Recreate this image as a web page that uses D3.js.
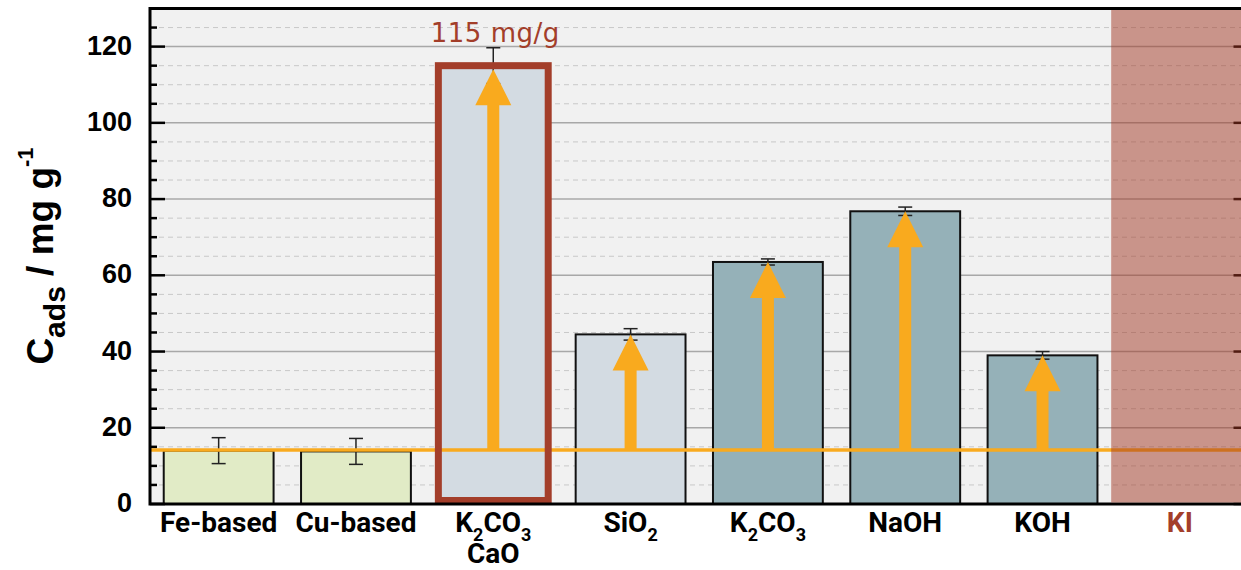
<!DOCTYPE html>
<html>
<head>
<meta charset="utf-8">
<script src="https://cdn.jsdelivr.net/npm/d3@7"></script>
<style>
  body { margin: 0; background: #fff; }
  svg { display: block; overflow: hidden; }
</style>
</head>
<body>
<div id="my_dataviz"></div>
<script>
// data
var categories = ["Fe-based", "Cu-based", "K2CO3\nCaO", "SiO2", "K2CO3", "NaOH", "KOH", "KI"];
var values = [14.0, 13.8, 115, 44.5, 63.5, 76.8, 39.0, null];
var errors = [3.4, 3.4, 4.7, 1.5, 0.8, 1.1, 1.0, null];
var groups = ["metal", "metal", "mixed", "oxide", "base", "base", "base", "none"];
var baseline = 14.2;
var majorTicks = [0, 20, 40, 60, 80, 100, 120];
var minorTicks = d3.range(5, 130, 5).filter(function(d) { return d % 20 != 0; });
var highlight = "K2CO3\nCaO";
var excluded = "KI";

var width = 1241, height = 570;
var pLeft = 150, pRight = 1248.5, pTop = 8.5, pBottom = 504;

var svg = d3.select("#my_dataviz")
  .append("svg")
    .attr("width", width)
    .attr("height", height);

var x = d3.scaleBand()
  .domain(categories)
  .range([pLeft, pRight])
  .paddingInner(0.2)
  .paddingOuter(0.1);

var y = d3.scaleLinear()
  .domain([0, 130])
  .range([pBottom, pTop]);

var color = d3.scaleOrdinal()
  .domain(["metal", "mixed", "oxide", "base", "none"])
  .range(["#e1ebc6", "#d3dbe2", "#d3dbe2", "#95b1b8", "none"]);

var red = "#a33e2a", orange = "#f9aa1e";

// plot background
svg.append("rect")
  .attr("x", pLeft).attr("y", pTop)
  .attr("width", pRight - pLeft).attr("height", pBottom - pTop)
  .style("fill", "#f1f1f1");

// grid lines
svg.append("g").selectAll("line")
  .data(minorTicks).enter().append("line")
    .attr("x1", pLeft).attr("x2", pRight)
    .attr("y1", function(d) { return y(d); })
    .attr("y2", function(d) { return y(d); })
    .style("stroke", "#c8c8c8")
    .style("stroke-width", 1)
    .style("stroke-dasharray", "5,4");

svg.append("g").selectAll("line")
  .data(majorTicks.slice(1)).enter().append("line")
    .attr("x1", pLeft).attr("x2", pRight)
    .attr("y1", function(d) { return y(d); })
    .attr("y2", function(d) { return y(d); })
    .style("stroke", "#a8a8a8")
    .style("stroke-width", 1.5);

var rows = categories.map(function(c, i) {
  return { name: c, value: values[i], err: errors[i], group: groups[i] };
});
var barRows = rows.filter(function(d) { return d.value != null; });

// bars
svg.append("g").selectAll("rect")
  .data(barRows).enter().append("rect")
    .attr("x", function(d) { return x(d.name); })
    .attr("y", function(d) { return y(d.value); })
    .attr("width", x.bandwidth())
    .attr("height", function(d) { return y(0) - y(d.value); })
    .style("fill", function(d) { return color(d.group); })
    .style("stroke", "#111")
    .style("stroke-width", 2);

// error bars
var eb = svg.append("g").selectAll("g")
  .data(barRows).enter().append("g")
    .style("stroke", "#222")
    .style("stroke-width", 1.5);
eb.append("line")
  .attr("x1", function(d) { return x(d.name) + x.bandwidth() / 2; })
  .attr("x2", function(d) { return x(d.name) + x.bandwidth() / 2; })
  .attr("y1", function(d) { return y(d.value + d.err); })
  .attr("y2", function(d) { return y(d.value - d.err); });
eb.selectAll(".cap")
  .data(function(d) { return [d.value + d.err, d.value - d.err].map(function(v) { return { name: d.name, v: v }; }); })
  .enter().append("line")
    .attr("class", "cap")
    .attr("x1", function(d) { return x(d.name) + x.bandwidth() / 2 - 7; })
    .attr("x2", function(d) { return x(d.name) + x.bandwidth() / 2 + 7; })
    .attr("y1", function(d) { return y(d.v); })
    .attr("y2", function(d) { return y(d.v); });

// reference line of the untreated sorbents
svg.append("line")
  .attr("x1", pLeft).attr("x2", pRight)
  .attr("y1", y(baseline)).attr("y2", y(baseline))
  .style("stroke", orange)
  .style("stroke-width", 3.5);

// arrows from the reference line up to each bar
var arrowRows = barRows.filter(function(d) { return d.value > baseline + 5; });
svg.append("g").selectAll("path")
  .data(arrowRows).enter().append("path")
    .attr("d", function(d) {
      var cx = x(d.name) + x.bandwidth() / 2,
          tip = y(d.value) + (d.name == highlight ? 3.5 : 0),
          head = tip + 36,
          base = y(baseline);
      var p = d3.path();
      p.moveTo(cx, tip);
      p.lineTo(cx + 18, head);
      p.lineTo(cx + 6, head);
      p.lineTo(cx + 6, base);
      p.lineTo(cx - 6, base);
      p.lineTo(cx - 6, head);
      p.lineTo(cx - 18, head);
      p.closePath();
      return p.toString();
    })
    .style("fill", orange);

// highlight frame
var hl = rows.filter(function(d) { return d.name == highlight; })[0];
svg.append("rect")
  .attr("x", x(hl.name))
  .attr("y", y(hl.value))
  .attr("width", x.bandwidth())
  .attr("height", y(0) - y(hl.value) - 3.5)
  .style("fill", "none")
  .style("stroke", red)
  .style("stroke-width", 7);

svg.append("text")
  .attr("x", x(hl.name) + x.bandwidth() / 2 + 2)
  .attr("y", 42)
  .attr("text-anchor", "middle")
  .style("font-family", "DejaVu Sans")
  .style("font-size", "26px")
  .style("letter-spacing", "0.5px")
  .style("fill", red)
  .text(hl.value + " mg/g");

// axis ticks (inward, both sides)
var ticks = svg.append("g").style("stroke", "#000").style("stroke-width", 2.5);
majorTicks.forEach(function(t) {
  ticks.append("line").attr("x1", pLeft).attr("x2", pLeft + 15).attr("y1", y(t)).attr("y2", y(t));
  ticks.append("line").attr("x1", pRight).attr("x2", pRight - 15).attr("y1", y(t)).attr("y2", y(t));
});
minorTicks.forEach(function(t) {
  ticks.append("line").attr("x1", pLeft).attr("x2", pLeft + 7).attr("y1", y(t)).attr("y2", y(t));
  ticks.append("line").attr("x1", pRight).attr("x2", pRight - 7).attr("y1", y(t)).attr("y2", y(t));
});

// frame
svg.append("rect")
  .attr("x", pLeft).attr("y", pTop)
  .attr("width", pRight - pLeft).attr("height", pBottom - pTop)
  .style("fill", "none")
  .style("stroke", "#000")
  .style("stroke-width", 3);

// excluded category shaded over everything
svg.append("rect")
  .attr("x", x(excluded) - x.step() * x.paddingInner() / 2)
  .attr("y", pTop + 1.5)
  .attr("width", x.step())
  .attr("height", pBottom - pTop - 3)
  .style("fill", "rgb(161,55,35)")
  .style("fill-opacity", 0.5);

// y tick labels
svg.append("g").selectAll("text")
  .data(majorTicks).enter().append("text")
    .attr("x", 132)
    .attr("y", function(d) { return y(d); })
    .attr("dy", "0.3em")
    .attr("text-anchor", "end")
    .style("font-family", "Liberation Sans, Arial, sans-serif")
    .style("font-weight", "bold")
    .style("font-size", "27px")
    .text(function(d) { return d; });

// x labels, digits become subscripts
svg.append("g").selectAll("text")
  .data(categories).enter().append("text")
    .attr("text-anchor", "middle")
    .style("font-family", "Roboto, sans-serif")
    .style("font-weight", "bold")
    .style("font-size", "28px")
    .style("fill", function(d) { return d == excluded ? red : "#000"; })
    .each(function(d) {
      var t = d3.select(this), cx = x(d) + x.bandwidth() / 2;
      d.split("\n").forEach(function(line, li) {
        var parts = line.split(/(\d)/).filter(function(s) { return s != ""; });
        var shift = 0;
        parts.forEach(function(s, k) {
          var sub = /\d/.test(s);
          var ts = t.append("tspan").text(s);
          var want = sub ? 9 : 0;
          if (k == 0) ts.attr("x", cx).attr("y", 532 + li * 31 + want);
          else ts.attr("dy", want - shift);
          if (sub) ts.style("font-size", "18px");
          shift = want;
        });
      });
    });

// y axis title
var yt = svg.append("text")
  .attr("transform", "translate(53,256) rotate(-90)")
  .attr("text-anchor", "middle")
  .style("font-family", "Liberation Sans, Arial, sans-serif")
  .style("font-weight", "bold")
  .style("font-size", "37px");
yt.append("tspan").text("C");
yt.append("tspan").attr("dy", 12).style("font-size", "30px").text("ads");
yt.append("tspan").attr("dy", -12).text(" / mg g");
yt.append("tspan").attr("dy", -20).style("font-size", "22px").text("-1");
</script>
</body>
</html>
